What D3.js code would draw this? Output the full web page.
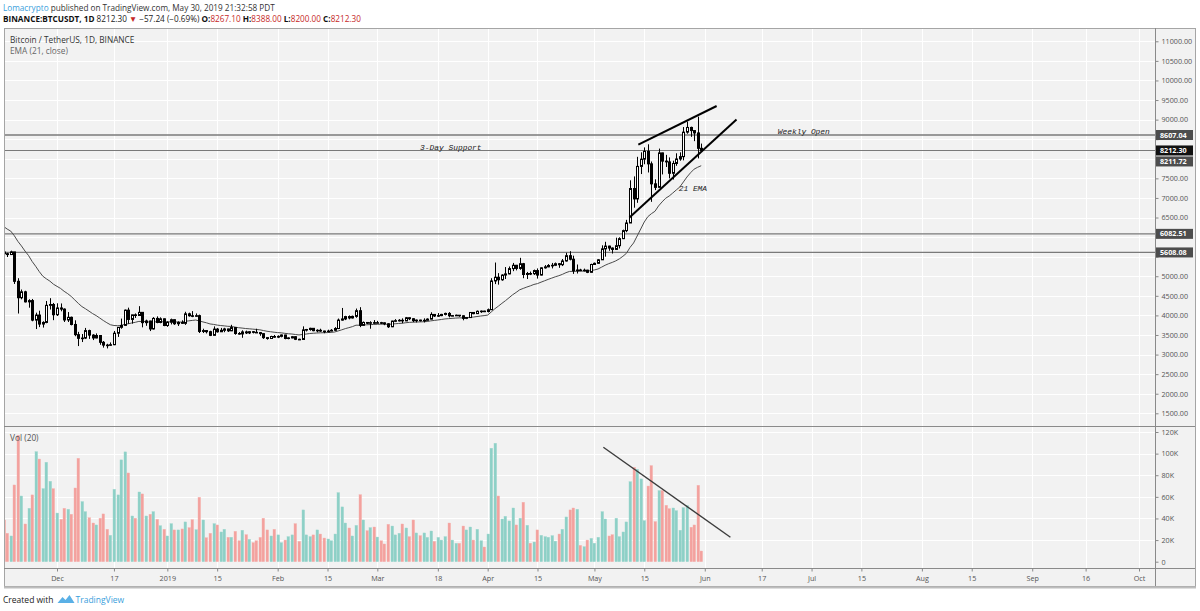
<!DOCTYPE html>
<html><head><meta charset="utf-8">
<script src="https://cdnjs.cloudflare.com/ajax/libs/d3/7.8.5/d3.min.js"></script>
<style>body{margin:0;background:#fff;}svg{display:block;font-family:"Open Sans","Noto Sans",sans-serif;}</style>
</head><body><svg id="c" width="1200" height="611"></svg>
<script>
// ---------------- DATA ----------------
const startDate = "2018-11-16"; // first daily candle (UTC)
const opens = [
5619,5575,5554,5621,4871,4451,4602,4346,4378,3880,4009,3779,3820,4257,4278,
4017,4190,4161,3884,3951,3769,3508,3415,3421,3612,3497,3424,3486,3313,3242,3236,3252,3545,3696,3745,4134,3897,4014,3998,4078,3815,3857,3654,3923,3820,3913,
3742,3826,3890,3787,3820,3798,4040,3991,3977,3993,3591,3612,3584,3491,3650,3582,3620,3654,3606,3690,3538,3527,3578,3553,3584,3568,3560,3534,3432,3410,3462,
3444,3465,3500,3411,3425,3456,3390,3385,3630,3640,3670,3610,3620,3600,3582,3600,3620,3665,3880,3910,3970,3935,3975,4120,3745,3820,3800,3815,
3800,3815,3810,3785,3710,3855,3865,3875,3860,3940,3915,3865,3880,3865,3875,3905,4025,3985,3995,4025,4050,3990,3995,4005,3990,3925,3945,4075,4045,4105,4110,
4100,4145,4880,4975,4910,5030,5060,5195,5280,5200,5320,5045,5070,5065,5145,5030,5215,5240,5275,5280,5320,5295,5390,5525,5435,5140,5160,5150,5155,5100,
5300,5330,5420,5700,5770,5720,5685,5780,5960,6165,6360,7240,6975,7805,7990,8190,7870,7360,7270,8150,7940,7920,7630,7880,7995,8055,8680,8800,8720,8660,8267.1];
const highs = [
5670,5600,5653,5621,4950,4661,4629,4413,4420,4070,4120,3850,4368,4440,4318,
4310,4305,4179,4085,3970,3875,3580,3525,3680,3635,3520,3540,3490,3346,3275,3310,3603,3700,3919,4150,4198,4016,4050,4236,4085,3891,3865,3955,3975,3950,3920,
3850,3918,3893,3849,3875,4093,4070,4110,4050,4020,3660,3626,3608,3720,3680,3680,3683,3660,3760,3700,3575,3620,3611,3600,3600,3660,3575,3540,3440,3480,3500,
3490,3512,3505,3440,3475,3466,3405,3720,3655,3685,3675,3645,3660,3610,3635,3650,3700,3920,4190,3990,4000,3995,4175,4210,3845,3830,3850,3880,
3860,3835,3820,3800,3865,3905,3905,3925,3960,3945,3925,3895,3890,3925,3925,4080,4030,4060,4040,4070,4085,4010,4020,4010,4000,3955,4080,4080,4125,4125,4120,
4175,4950,5350,5080,5050,5235,5250,5340,5290,5470,5340,5110,5120,5170,5200,5230,5285,5310,5340,5350,5335,5440,5600,5640,5525,5300,5190,5195,5165,5320,
5350,5440,5790,5880,5780,5735,5985,5995,6190,6440,7450,7550,8050,8165,8290,8370,7930,7475,8260,8155,8100,8035,7950,8140,8165,8810,8950,8820,8730,9075,8388];
const lows = [
5370,5490,5542,4803,4048,4411,4330,4197,3850,3652,3701,3689,3800,4150,3878,
3985,4105,3832,3831,3745,3468,3217,3320,3396,3400,3370,3415,3250,3177,3157,3220,3240,3450,3660,3730,3785,3790,3935,3990,3695,3735,3600,3640,3800,3800,3725,
3708,3770,3758,3730,3788,3758,3968,3955,3962,3550,3550,3540,3472,3489,3560,3576,3571,3578,3600,3506,3510,3428,3525,3524,3540,3550,3480,3400,3380,3400,3430,
3420,3440,3390,3390,3415,3370,3370,3375,3590,3610,3595,3570,3580,3545,3575,3595,3600,3650,3865,3880,3900,3920,3940,3700,3730,3780,3660,3790,
3795,3780,3750,3680,3700,3830,3845,3800,3855,3880,3830,3820,3845,3820,3870,3900,3960,3960,3980,4000,3950,3980,3985,3965,3875,3905,3940,4030,4035,4065,4085,
4075,4145,4800,4785,4885,4930,5050,5130,5150,5165,4950,4930,5030,5035,4940,5020,5195,5230,5200,5260,5215,5260,5375,5405,5060,5070,5130,5125,5080,5090,
5290,5320,5420,5500,5650,5580,5680,5710,5950,6125,6360,6750,6875,7610,7860,7650,6900,7200,7260,7600,7790,7500,7470,7820,7950,7960,8640,8560,8450,8010,8200];
const closes = [
5575,5554,5623,4871,4451,4602,4346,4378,3880,4009,3779,3820,4257,4278,4017,
4190,4161,3884,3951,3769,3508,3415,3421,3612,3497,3424,3486,3313,3242,3236,3252,3545,3696,3745,4134,3897,4014,3998,4078,3815,3857,3654,3923,3820,3913,3742,
3826,3890,3787,3820,3798,4040,3991,3977,3993,3591,3612,3584,3491,3650,3582,3620,3654,3606,3690,3538,3527,3578,3553,3584,3568,3560,3534,3432,3410,3462,3444,
3465,3500,3411,3425,3456,3390,3385,3630,3640,3670,3610,3620,3600,3582,3600,3620,3665,3880,3910,3970,3935,3975,4120,3745,3820,3800,3815,3800,
3815,3810,3785,3710,3855,3865,3875,3860,3940,3915,3865,3880,3865,3875,3905,4025,3985,3995,4025,4050,3990,3995,4005,3990,3925,3945,4075,4045,4105,4110,4100,
4145,4880,4975,4910,5030,5060,5195,5280,5200,5320,5045,5070,5065,5145,5030,5215,5240,5275,5280,5320,5295,5390,5525,5435,5140,5160,5150,5155,5100,5300,
5330,5420,5700,5770,5720,5685,5780,5960,6165,6360,7240,6975,7805,7990,8190,7870,7360,7270,8150,7940,7920,7630,7880,7995,8055,8680,8800,8720,8660,8267.1,8212.3];
// volume in thousands of BTC
const volumesK = [
38.6,26.3,23.8,71,117,60.8,34.9,49.4,61.8,101.8,95,67.6,92,74.4,67.6,
45,39.2,49.4,48.5,43.9,68.2,95.7,55.6,46.3,40.7,35.8,34,40.2,44.2,30,24.4,67,61.8,94.2,101.6,82.1,42.3,40.2,64.5,62.7,42.3,43.9,46.3,39.2,33.3,30,
23.8,35.2,29.4,29.4,30.3,36.8,31.5,38.9,29.6,59.6,38.6,22.2,26.3,35.2,34,27.5,30,22.6,22.6,28.1,19.4,29.1,25,20.7,17.6,19.4,22.5,40.2,29.4,23.8,30,
24.8,17.6,20,23.2,24.8,35.2,18.8,47.9,24.8,23.2,24.8,29.4,25.6,21.9,21,19.4,25.6,63.9,50.7,35.8,31.2,23.8,33.6,62,38.6,28.7,31.5,32.1,
22.8,19.4,16.4,34.6,33,24.8,26.3,34.9,31.2,23.2,38.6,26.6,24.1,26.6,22.5,28.4,18.8,22.5,20,23.2,35.8,20,17,17,33,29.4,32.1,20,30,19.4,13.6,
25.6,105,109.6,60.8,39.5,42,37.7,49.7,34,40.2,55,33.7,17.1,18.2,29.4,24.4,23.2,22.6,24.1,19,25.6,30,41.4,47.9,49.7,48.5,15.1,13.9,20,21.6,
17.1,22.6,46.3,39.5,23.8,25,40.2,23.2,27.5,36.8,74,87.3,85.5,76.6,38,70,88.9,37.1,65.8,65.8,52.2,49.1,49.7,47.2,29.1,50,51.9,31.9,34,70.7,9.9];

const emaLength = 21;
const emaSeed = 6340; // EMA value carried in from before the visible range

const levelValues = [8607.04, 8211.72, 6082.51, 5608.08];
const lastPrice = 8212.30;

const timeTickDates = ["2018-12-01","2018-12-17","2019-01-01","2019-01-15","2019-02-01","2019-02-15","2019-03-01","2019-03-18","2019-04-01","2019-04-15","2019-05-01","2019-05-15","2019-06-01","2019-06-17","2019-07-01","2019-07-15","2019-08-01","2019-08-15","2019-09-01","2019-09-16","2019-10-01"];
const timeTickLabels = ["Dec","17","2019","15","Feb","15","Mar","18","Apr","15","May","15","Jun","17","Jul","15","Aug","15","Sep","16","Oct"];
const priceTicks = [1500,2000,2500,3000,3500,4000,4500,5000,5500,6000,6500,7000,7500,8000,8500,9000,9500,10000,10500,11000];
const volTicks = [0,20,40,60,80,100,120];
const volTickLabels = ["0","20K","40K","60K","80K","100K","120K"];

// drawn trendlines: [date, value]
const wedgeUpper = [["2019-05-13T08:00Z",8362],["2019-06-04T08:00Z",9348]];
const wedgeLower = [["2019-05-10T20:00Z",6498],["2019-06-09T22:00Z",9001]];
const volTrend = [["2019-05-03T12:00Z",105.9],["2019-06-08T05:00Z",22.6]];
const notes = [
  {text:"Weekly Open", date:"2019-06-21T12:00Z", price:8702},
  {text:"3-Day Support", date:"2019-03-13T00:00Z", price:8293},
  {text:"21 EMA", date:"2019-05-24T16:00Z", price:7246}
];

// ---------------- LAYOUT ----------------
const L=4, R=1155, OR=1195, PT=28, PB=426, VB=568, AB=586;
const svg = d3.select("#c");
const parse = s => new Date(s.length===10 ? s+"T00:00:00Z" : s);
const dates = closes.map((_,i)=> d3.utcDay.offset(parse(startDate), i));

const x = d3.scaleUtc().domain([parse("2018-12-01"), parse("2019-10-01")]).range([57,1139]);
const y = d3.scaleLinear().domain([1500,11000]).range([413.3,41.3]);
const yv = d3.scaleLinear().domain([0,120]).range([561.7,432]);

// EMA
const kE = 2/(emaLength+1);
let prevE = emaSeed;
const ema = closes.map(c => (prevE = c*kE + prevE*(1-kE)));

const uiFont = "'Open Sans','Noto Sans',sans-serif";

// frame + backgrounds
svg.append("rect").attr("x",L).attr("y",PT).attr("width",OR-L).attr("height",AB-PT).attr("fill","#f2f2f2");
const defs = svg.append("defs");
defs.append("clipPath").attr("id","cp").append("rect").attr("x",L).attr("y",PT).attr("width",R-L).attr("height",PB-PT);
defs.append("clipPath").attr("id","cv").append("rect").attr("x",L).attr("y",PB).attr("width",R-L).attr("height",VB-PB);

// grid
const grid = svg.append("g").attr("stroke","#ffffff").attr("stroke-width",1);
grid.selectAll(".gh").data(priceTicks).join("line")
  .attr("x1",L).attr("x2",R).attr("y1",d=>Math.round(y(d))+0.5).attr("y2",d=>Math.round(y(d))+0.5);
grid.selectAll(".gv").data(volTicks.filter(d=>d>0)).join("line")
  .attr("x1",L).attr("x2",R).attr("y1",d=>Math.round(yv(d))+0.5).attr("y2",d=>Math.round(yv(d))+0.5);
grid.selectAll(".gx").data(timeTickDates).join("line")
  .attr("x1",d=>Math.round(x(parse(d)))+0.5).attr("x2",d=>Math.round(x(parse(d)))+0.5).attr("y1",PT).attr("y2",VB);

// ---------------- PRICE PANE ----------------
const pp = svg.append("g").attr("clip-path","url(#cp)");
pp.selectAll(".lv").data(levelValues).join("line")
  .attr("x1",L).attr("x2",R).attr("y1",d=>y(d)).attr("y2",d=>y(d))
  .attr("stroke","#7a7a7a").attr("stroke-width",(d,i)=> i===0?1.6:1.2);
pp.append("path").datum(ema).attr("fill","none").attr("stroke","#4a4a4a").attr("stroke-width",1)
  .attr("d", d3.line().x((d,i)=>x(dates[i])).y(d=>y(d)));
const cg = pp.append("g");
cg.selectAll(".w").data(closes).join("line")
  .attr("x1",(d,i)=>Math.round(x(dates[i]))+0.5).attr("x2",(d,i)=>Math.round(x(dates[i]))+0.5)
  .attr("y1",(d,i)=>y(highs[i])).attr("y2",(d,i)=>y(lows[i])).attr("stroke","#000").attr("stroke-width",1);
cg.selectAll(".b").data(closes).join("rect")
  .attr("x",(d,i)=>Math.round(x(dates[i]))-0.5).attr("width",2)
  .attr("y",(d,i)=>y(Math.max(opens[i],closes[i])))
  .attr("height",(d,i)=>Math.max(0.6, Math.abs(y(opens[i])-y(closes[i]))))
  .attr("fill",(d,i)=> closes[i]>=opens[i] ? "#ffffff" : "#000000")
  .attr("stroke","#000").attr("stroke-width",1);
const tl = d3.line().x(d=>x(parse(d[0]))).y(d=>y(d[1]));
[wedgeUpper, wedgeLower].forEach(seg=>{
  pp.append("path").attr("d",tl(seg)).attr("stroke","#000").attr("stroke-width",2).attr("fill","none");
});
svg.selectAll(".note").data(notes).join("text")
  .attr("x",d=>x(parse(d.date))).attr("y",d=>y(d.price)).attr("dy","0.35em")
  .attr("font-family","'Liberation Mono','DejaVu Sans Mono',monospace").attr("font-style","italic")
  .attr("font-size",7.9).attr("fill","#222").text(d=>d.text);

// ---------------- VOLUME PANE ----------------
const vp = svg.append("g").attr("clip-path","url(#cv)");
vp.selectAll(".v").data(volumesK).join("rect")
  .attr("x",(d,i)=>Math.round(x(dates[i]))-1).attr("width",2.6)
  .attr("y",d=>yv(d)).attr("height",d=>yv(0)-yv(d))
  .attr("fill",(d,i)=> closes[i]>=opens[i] ? "#8dd0c6" : "#f3a19e")
  .attr("stroke",(d,i)=> closes[i]>=opens[i] ? "#9fd8cf" : "#f6b3b0").attr("stroke-width",0.4);
vp.append("path").attr("d", d3.line().x(d=>x(parse(d[0]))).y(d=>yv(d[1]))(volTrend))
  .attr("stroke","#3c3c3c").attr("stroke-width",1.4).attr("fill","none");

// ---------------- AXES & FRAME ----------------
const axFont = 7.2, axCol = "#555";
const fr = svg.append("g").attr("fill","none");
fr.append("rect").attr("x",L+0.5).attr("y",PT+0.5).attr("width",OR-L).attr("height",AB-PT).attr("stroke","#a5a5a5");
fr.append("line").attr("x1",R+0.5).attr("x2",R+0.5).attr("y1",PT).attr("y2",AB).attr("stroke","#8a8a8a");
fr.append("line").attr("x1",L).attr("x2",OR).attr("y1",PB+0.5).attr("y2",PB+0.5).attr("stroke","#8a8a8a");
fr.append("line").attr("x1",L).attr("x2",OR).attr("y1",VB+0.5).attr("y2",VB+0.5).attr("stroke","#8a8a8a");
fr.append("line").attr("x1",L).attr("x2",OR+1).attr("y1",AB+1.5).attr("y2",AB+1.5).attr("stroke","#bdbdbd").attr("stroke-width",2);

// price-axis value boxes (computed first so covered tick labels can be dropped)
const labels = levelValues.map(v=>({v, bg:"#4d4d4d"}));
labels.push({v:lastPrice, bg:"#111111", fixed:true});
labels.forEach(d=> d.yy = y(d.v));
const fixedL = labels.filter(d=>d.fixed)[0];
labels.forEach(d=>{ if(!d.fixed && Math.abs(d.yy-fixedL.yy)<11){ d.yy = fixedL.yy + (d.v<=fixedL.v?11:-11); } });
const covered = v => labels.some(l => Math.abs(y(v)-l.yy) < 10);

const pax = svg.append("g").attr("transform",`translate(${R+0.5},0)`)
  .call(d3.axisRight(y).tickValues(priceTicks).tickFormat(d3.format(".2f")).tickSize(3).tickPadding(3));
pax.select(".domain").remove();
pax.selectAll("line").attr("stroke","#888");
pax.selectAll("text").attr("font-size",axFont).attr("fill",axCol).attr("font-family",uiFont);
pax.selectAll(".tick").filter(d=>covered(d)).select("text").remove();

const vax = svg.append("g").attr("transform",`translate(${R+0.5},0)`)
  .call(d3.axisRight(yv).tickValues(volTicks).tickFormat((d,i)=>volTickLabels[i]).tickSize(3).tickPadding(3));
vax.select(".domain").remove();
vax.selectAll("line").attr("stroke","#888");
vax.selectAll("text").attr("font-size",axFont).attr("fill",axCol).attr("font-family",uiFont);

const tax = svg.append("g").attr("transform",`translate(0,${VB+0.5})`)
  .call(d3.axisBottom(x).tickValues(timeTickDates.map(parse)).tickFormat((d,i)=>timeTickLabels[i]).tickSize(3).tickPadding(4));
tax.select(".domain").remove();
tax.selectAll("line").attr("stroke","#888");
tax.selectAll("text").attr("font-size",axFont).attr("fill",axCol).attr("font-family",uiFont);

const lg = svg.append("g");
lg.selectAll("rect").data(labels).join("rect")
  .attr("x",R+1).attr("y",d=>d.yy-5).attr("width",37).attr("height",10).attr("fill",d=>d.bg);
lg.selectAll("text").data(labels).join("text")
  .attr("x",R+5).attr("y",d=>d.yy).attr("dy","0.35em").attr("font-size",7.2).attr("font-weight","bold")
  .attr("fill","#fff").attr("font-family",uiFont).text(d=>d3.format(".2f")(d.v));

// pane captions
const cap = svg.append("g").attr("font-family",uiFont).attr("font-size",8.3);
cap.append("text").attr("x",10).attr("y",43).attr("fill","#333").text("Bitcoin / TetherUS, 1D, BINANCE");
cap.append("text").attr("x",10).attr("y",54).attr("fill","#666").text("EMA (21, close)");
cap.append("text").attr("x",10).attr("y",441).attr("fill","#555").text("Vol (20)");

// header
const h1 = svg.append("text").attr("x",3).attr("y",11).attr("font-family",uiFont).attr("font-size",8.2).attr("fill","#333");
h1.append("tspan").attr("fill","#3aa0dc").text("Lomacrypto");
h1.append("tspan").text(" published on TradingView.com, May 30, 2019 21:32:58 PDT");
const h2 = svg.append("text").attr("x",3).attr("y",22).attr("font-family",uiFont).attr("font-size",8.2).attr("fill","#222");
const red = "#c62828";
[["BINANCE:BTCUSDT, 1D","bold","#111"],["  8212.30 ","normal","#222"],["▼","normal",red],[" −57.24 (−0.69%) ","normal","#222"],
 ["O:","bold","#111"],["8267.10","normal",red],[" H:","bold","#111"],["8388.00","normal",red],[" L:","bold","#111"],["8200.00","normal",red],
 [" C:","bold","#111"],["8212.30","normal",red]].forEach(s=>{
  h2.append("tspan").attr("font-weight",s[1]).attr("fill",s[2]).text(s[0]);
});

// footer
const ft = svg.append("g").attr("font-family",uiFont).attr("font-size",8.5);
const cw = ft.append("text").attr("x",3).attr("y",603).attr("fill","#222").text("Created with");
const wEnd = 3 + cw.node().getComputedTextLength() + 4;
ft.append("path").attr("d",`M${wEnd},603 l5,-6 l3,3 l4,-5 l5,8 z`).attr("fill","#5ab0e6");
ft.append("text").attr("x",wEnd+18).attr("y",603).attr("fill","#3aa0dc").text("TradingView");
</script></body></html>
